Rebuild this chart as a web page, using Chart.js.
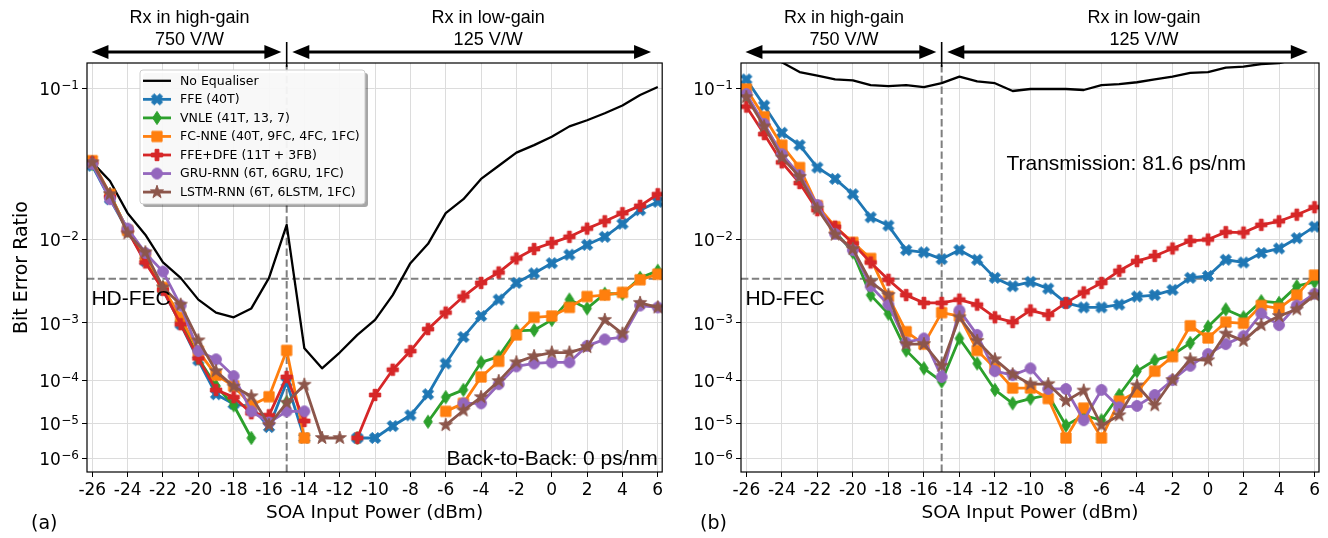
<!DOCTYPE html>
<html lang="en">
<head>
<meta charset="utf-8">
<title>Bit error ratio versus SOA input power</title>
<script src="https://cdn.jsdelivr.net/npm/chart.js@4.4.1/dist/chart.umd.min.js"></script>
<style>
  html, body { margin: 0; padding: 0; background: #ffffff; }
  #figure { position: relative; width: 1328px; height: 538px; overflow: hidden; background: #ffffff; }
  #figure canvas { position: absolute; top: 0; }
  #panelA { left: 0; }
  #panelB { left: 670px; }
</style>
</head>
<body>
<div id="figure">
  <canvas id="panelA" width="670" height="538"></canvas>
  <canvas id="panelB" width="658" height="538"></canvas>
</div>
<script>
// ---------------- data ----------------
const powerDbm = [-26, -25, -24, -23, -22, -21, -20, -19, -18, -17, -16, -15, -14, -13, -12, -11, -10,
                  -9, -8, -7, -6, -5, -4, -3, -2, -1, 0, 1, 2, 3, 4, 5, 6];
const xTickValues = [-26, -24, -22, -20, -18, -16, -14, -12, -10, -8, -6, -4, -2, 0, 2, 4, 6];
const yTickExponents = [1, 2, 3, 4, 5, 6];
const hdFecLimit = 3.8e-3;
const gainSwitchDbm = -15;

const seriesNames = ['No Equaliser', 'FFE (40T)', 'VNLE (41T, 13, 7)', 'FC-NNE (40T, 9FC, 4FC, 1FC)',
                     'FFE+DFE (11T + 3FB)', 'GRU-RNN (6T, 6GRU, 1FC)', 'LSTM-RNN (6T, 6LSTM, 1FC)'];

// (a) back-to-back
const noEqA  = [0.040, 0.030, 0.017, 0.011, 0.0058, 0.0039, 0.0021, 0.0014, 0.0012, 0.0016, 0.0039, 0.0135, 3.9e-4,
                1.7e-4, 3.3e-4, 6.5e-4, 1.1e-3, 2.4e-3, 5.7e-3, 9.0e-3, 0.017, 0.022, 0.031, 0.038, 0.046, 0.051,
                0.057, 0.065, 0.070, 0.076, 0.083, 0.093, 0.101];
const ffeA   = [0.038, 0.022, 0.012, 0.0060, 0.0028, 9.5e-4, 2.4e-4, 5.0e-5, 3.0e-5, 2.6e-5, 8.0e-6, 9.0e-5, 4.0e-6,
                null, null, 4.0e-6, 4.0e-6, 8.5e-6, 1.6e-5, 5.0e-5, 2.1e-4, 6.0e-4, 1.25e-3, 2.1e-3, 3.4e-3, 4.4e-3,
                5.7e-3, 7.0e-3, 8.8e-3, 0.0105, 0.0138, 0.018, 0.021];
const vnleA  = [0.039, 0.024, 0.012, 0.0062, 0.0030, 1.1e-3, 2.6e-4, 7.5e-5, 2.8e-5, 4.0e-6, null, 3.3e-5, null,
                null, null, 4.0e-6, null, null, null, 1.1e-5, 4.3e-5, 6.2e-5, 2.2e-4, 2.8e-4, 7.5e-4, 7.7e-4,
                1.1e-3, 2.1e-3, 1.6e-3, 2.5e-3, 2.5e-3, 3.9e-3, 4.7e-3];
const fcnneA = [0.041, 0.024, 0.012, 0.0068, 0.0030, 1.2e-3, 3.5e-4, 1.25e-4, 7.5e-5, 2.8e-5, 4.4e-5, 3.6e-4, 4.0e-6,
                null, null, null, null, null, null, null, 2.0e-5, 3.1e-5, 1.15e-4, 2.3e-4, 6.5e-4, 1.2e-3,
                1.25e-3, 1.65e-3, 2.3e-3, 2.4e-3, 2.6e-3, 3.7e-3, 4.3e-3];
const dfeA   = [0.040, 0.023, 0.012, 0.0058, 0.0028, 9.5e-4, 2.6e-4, 6.2e-5, 4.3e-5, 1.8e-5, 1.6e-5, 1.15e-4, 1.15e-5,
                null, null, 4.0e-6, 4.8e-5, 1.6e-4, 3.5e-4, 8.0e-4, 1.4e-3, 2.3e-3, 3.4e-3, 4.5e-3, 6.4e-3, 8.0e-3,
                9.2e-3, 0.0105, 0.0125, 0.0145, 0.017, 0.0195, 0.024];
const gruA   = [0.039, 0.022, 0.0125, 0.0073, 0.0046, 1.75e-3, 3.5e-4, 2.5e-4, 1.2e-4, 2.0e-5, 1.05e-5, 2.0e-5, 2.0e-5,
                null, null, null, null, null, null, null, null, 3.1e-5, 3.1e-5, 8.2e-5, 1.85e-4, 2.1e-4,
                2.2e-4, 2.2e-4, 4.3e-4, 5.5e-4, 6.0e-4, 1.75e-3, 1.65e-3];
const lstmA  = [0.040, 0.024, 0.0113, 0.0074, 0.0030, 1.8e-3, 5.3e-4, 1.5e-4, 7.3e-5, 4.5e-5, 9.0e-6, 3.2e-5, 8.0e-5,
                4.0e-6, 4.0e-6, null, null, null, null, null, 9.0e-6, 2.1e-5, 4.3e-5, 9.5e-5, 2.2e-4, 2.85e-4,
                3.3e-4, 3.3e-4, 4.1e-4, 1.1e-3, 6.8e-4, 1.9e-3, 1.65e-3];

// (b) after 81.6 ps/nm transmission
const noEqB  = [0.160, 0.145, 0.128, 0.117, 0.113, 0.109, 0.108, 0.103, 0.102, 0.103, 0.101, 0.105, 0.112,
                0.107, 0.105, 0.097, 0.099, 0.099, 0.099, 0.098, 0.103, 0.104, 0.106, 0.109, 0.112, 0.116,
                0.117, 0.122, 0.123, 0.126, 0.127, 0.132, 0.135];
const ffeB   = [0.109, 0.083, 0.060, 0.051, 0.037, 0.031, 0.024, 0.0157, 0.0133, 0.0078, 0.0074, 0.0063, 0.0078,
                0.0062, 0.0039, 0.0031, 0.0035, 0.0029, 0.0019, 0.00165, 0.00165, 0.0018, 0.0023, 0.0024, 0.0028,
                0.0039, 0.0041, 0.0062, 0.0058, 0.0073, 0.0081, 0.0102, 0.013];
const vnleB  = [0.093, 0.066, 0.045, 0.032, 0.019, 0.0118, 0.0074, 0.0024, 1.35e-3, 3.6e-4, 1.7e-4, 9.3e-5, 5.7e-4,
                2.1e-4, 6.2e-5, 3.1e-5, 4.0e-5, 4.8e-5, 8.8e-6, 1.6e-5, 1.2e-5, 4.8e-5, 1.5e-4, 2.4e-4, 3.0e-4,
                4.8e-4, 8.7e-4, 1.55e-3, 1.2e-3, 2.0e-3, 1.9e-3, 3.1e-3, 3.5e-3];
const fcnneB = [0.099, 0.073, 0.051, 0.037, 0.0196, 0.013, 0.0093, 0.0064, 0.0023, 7.3e-4, 4.6e-4, 1.4e-3, 1.25e-3,
                3.6e-4, 1.7e-4, 6.8e-5, 6.8e-5, 4.0e-5, 4.0e-6, 2.4e-5, 4.0e-6, 3.5e-5, 5.6e-5, 1.5e-4, 2.8e-4,
                9.0e-4, 5.8e-4, 1.02e-3, 9.8e-4, 1.75e-3, 1.6e-3, 2.4e-3, 4.2e-3];
const dfeB   = [0.082, 0.059, 0.040, 0.029, 0.018, 0.013, 0.0091, 0.0058, 0.0037, 0.0024, 0.0019, 0.0019, 0.0021,
                0.0018, 0.0012, 0.00102, 0.0015, 0.0013, 0.0019, 0.0026, 0.0034, 0.0047, 0.0060, 0.0068, 0.0081,
                0.0096, 0.0099, 0.0116, 0.0115, 0.0135, 0.0145, 0.0165, 0.019];
const gruB   = [0.094, 0.067, 0.045, 0.033, 0.0198, 0.0112, 0.0078, 0.0031, 0.0018, 4.9e-4, 5.7e-4, 1.15e-4, 1.5e-3,
                6.5e-4, 1.5e-4, 1.25e-4, 1.7e-4, 6.5e-5, 6.5e-5, 1.2e-5, 6.2e-5, 2.5e-5, 2.7e-5, 4.8e-5, 1.0e-4,
                1.9e-4, 3.1e-4, 4.6e-4, 6.2e-4, 1.35e-3, 9.2e-4, 1.75e-3, 2.5e-3];
const lstmB  = [0.091, 0.065, 0.043, 0.032, 0.0185, 0.011, 0.0080, 0.0035, 0.0024, 4.6e-4, 4.6e-4, 1.9e-4, 1.2e-3,
                5.2e-4, 2.5e-4, 1.3e-4, 8.2e-5, 8.2e-5, 3.5e-5, 6.0e-5, 8.8e-6, 1.6e-5, 7.7e-5, 2.8e-5, 1.0e-4,
                2.5e-4, 2.4e-4, 6.8e-4, 5.2e-4, 9.2e-4, 1.25e-3, 1.55e-3, 2.4e-3];

// ---------------- styles ----------------
const seriesColors  = ['#000000', '#1f77b4', '#2ca02c', '#ff7f0e', '#d62728', '#9467bd', '#8c564b'];
const seriesMarkers = [null, 'X', 'd', 's', 'P', 'o', '*'];
const SANS = "'DejaVu Sans', 'Noto Sans', sans-serif";
const ARIAL = "'Liberation Sans', Arial, sans-serif";

// ---------------- BER axis: y ∝ (-log10 BER)^-0.1 ----------------
const berTransform = v => Math.pow(-Math.log10(v), -0.1);
const berInverse = t => Math.pow(10, -Math.pow(t, -10));

class BerScale extends Chart.Scale {
  static id = 'ber';
  static defaults = {};
  determineDataLimits() {
    this.min = this.options.min;
    this.max = this.options.max;
  }
  buildTicks() {
    return yTickExponents.map(k => ({ value: Math.pow(10, -k) }));
  }
  getLabelForValue(value) {
    return value.toExponential(1);
  }
  configure() {
    super.configure();
    this._t0 = berTransform(this.min);
    this._t1 = berTransform(this.max);
  }
  getPixelForValue(value) {
    if (value === null || value === undefined || !(value > 0)) return NaN;
    return this.getPixelForDecimal((berTransform(value) - this._t0) / (this._t1 - this._t0));
  }
  getValueForPixel(pixel) {
    const d = this.getDecimalForPixel(pixel);
    return berInverse(this._t0 + d * (this._t1 - this._t0));
  }
}
Chart.register(BerScale);

// ---------------- marker glyphs ----------------
function makeMarker(kind, color) {
  const size = 18;
  const c = document.createElement('canvas');
  c.width = size; c.height = size;
  const g = c.getContext('2d');
  g.translate(size / 2, size / 2);
  g.fillStyle = color; g.strokeStyle = color; g.lineWidth = 1; g.lineJoin = 'miter';
  g.beginPath();
  const poly = (pts, s) => {
    pts.forEach(([u, v], i) => {
      const px = (u - 0.5) * s, py = (v - 0.5) * s;
      if (i) g.lineTo(px, py); else g.moveTo(px, py);
    });
    g.closePath();
  };
  if (kind === 'o') {
    g.arc(0, 0, 5.4, 0, Math.PI * 2);
  } else if (kind === 's') {
    g.rect(-5.1, -5.1, 10.2, 10.2);
  } else if (kind === 'X') {
    poly([[0.25, 0], [0.5, 0.25], [0.75, 0], [1, 0.25], [0.75, 0.5], [1, 0.75],
          [0.75, 1], [0.5, 0.75], [0.25, 1], [0, 0.75], [0.25, 0.5], [0, 0.25]], 11.2);
  } else if (kind === 'P') {
    const a = 1 / 3, b = 2 / 3;
    poly([[a, 0], [b, 0], [b, a], [1, a], [1, b], [b, b], [b, 1], [a, 1], [a, b], [0, b], [0, a], [a, a]], 11.4);
  } else if (kind === 'd') {
    g.moveTo(0, -6.6); g.lineTo(4.3, 0); g.lineTo(0, 6.6); g.lineTo(-4.3, 0); g.closePath();
  } else if (kind === '*') {
    for (let i = 0; i < 10; i++) {
      const r = i % 2 ? 2.7 : 6.9;
      const ang = -Math.PI / 2 + i * Math.PI / 5;
      const px = r * Math.cos(ang), py = r * Math.sin(ang);
      if (i) g.lineTo(px, py); else g.moveTo(px, py);
    }
    g.closePath();
  }
  g.fill(); g.stroke();
  return c;
}
const markerImgs = seriesMarkers.map((m, k) => m ? makeMarker(m, seriesColors[k]) : null);

function buildDatasets(seriesValues) {
  return seriesValues.map((vals, k) => ({
    label: seriesNames[k],
    data: powerDbm.map((p, i) => ({ x: p, y: vals[i] })),
    borderColor: seriesColors[k],
    backgroundColor: seriesColors[k],
    borderWidth: k === 0 ? 2.3 : 2.8,
    borderJoinStyle: 'round',
    borderCapStyle: 'butt',
    pointStyle: markerImgs[k] || 'circle',
    pointRadius: k === 0 ? 0 : 5,
    pointHoverRadius: 0,
    tension: 0,
    spanGaps: false,
    order: seriesValues.length - k
  }));
}

// ---------------- drawing helpers ----------------
function doubleArrow(ctx, x1, x2, y) {
  const hl = 17, hw = 7;
  ctx.save();
  ctx.strokeStyle = '#000'; ctx.fillStyle = '#000'; ctx.lineWidth = 3.2;
  ctx.beginPath(); ctx.moveTo(x1 + hl - 2, y); ctx.lineTo(x2 - hl + 2, y); ctx.stroke();
  ctx.beginPath(); ctx.moveTo(x1, y); ctx.lineTo(x1 + hl, y - hw); ctx.lineTo(x1 + hl, y + hw); ctx.closePath(); ctx.fill();
  ctx.beginPath(); ctx.moveTo(x2, y); ctx.lineTo(x2 - hl, y - hw); ctx.lineTo(x2 - hl, y + hw); ctx.closePath(); ctx.fill();
  ctx.restore();
}

function drawLegend(ctx, box) {
  const { left, top, width, height } = box;
  ctx.save();
  // shadow
  ctx.fillStyle = 'rgba(0,0,0,0.35)';
  ctx.beginPath(); ctx.roundRect(left + 3, top + 3, width, height, 3); ctx.fill();
  ctx.fillStyle = 'rgba(255,255,255,0.92)';
  ctx.strokeStyle = '#cccccc'; ctx.lineWidth = 1;
  ctx.beginPath(); ctx.roundRect(left, top, width, height, 3); ctx.fill(); ctx.stroke();
  ctx.font = `12.5px ${SANS}`;
  ctx.textBaseline = 'middle'; ctx.textAlign = 'left';
  seriesNames.forEach((name, k) => {
    const cy = top + 10.8 + k * 18.55;
    ctx.strokeStyle = seriesColors[k];
    ctx.lineWidth = k === 0 ? 2.3 : 2.8;
    ctx.beginPath(); ctx.moveTo(left + 3, cy); ctx.lineTo(left + 31, cy); ctx.stroke();
    if (markerImgs[k]) ctx.drawImage(markerImgs[k], left + 17 - 9, cy - 9);
    ctx.fillStyle = '#000';
    ctx.fillText(name, left + 40, cy + 0.5);
  });
  ctx.restore();
}

const panelDecor = {
  id: 'panelDecor',
  beforeDatasetsDraw(chart, args, opts) {
    const { ctx, chartArea: a, scales: { x, y } } = chart;
    ctx.save();
    ctx.strokeStyle = '#7f7f7f'; ctx.lineWidth = 2; ctx.setLineDash([7.4, 3.4]);
    const yf = y.getPixelForValue(hdFecLimit);
    ctx.beginPath(); ctx.moveTo(a.left, yf); ctx.lineTo(a.right, yf); ctx.stroke();
    const xv = x.getPixelForValue(gainSwitchDbm);
    ctx.beginPath(); ctx.moveTo(xv, a.bottom); ctx.lineTo(xv, a.top); ctx.stroke();
    ctx.restore();
  },
  afterDatasetsDraw(chart, args, opts) {
    const { ctx, chartArea: a, scales: { x, y } } = chart;
    ctx.save();
    // in-plot notes
    ctx.fillStyle = '#000';
    ctx.font = `21px ${ARIAL}`;
    ctx.textBaseline = 'middle';
    opts.notes.forEach(n => {
      ctx.textAlign = n.align;
      ctx.fillText(n.text, x.getPixelForValue(n.x), y.getPixelForValue(n.y));
    });
    // frame
    ctx.strokeStyle = '#000'; ctx.lineWidth = 1.2;
    ctx.strokeRect(a.left, a.top, a.right - a.left, a.bottom - a.top);
    ctx.restore();
  },
  afterDraw(chart, args, opts) {
    const { ctx, chartArea: a, scales: { x, y } } = chart;
    ctx.save();
    // receiver gain regions above the plot
    ctx.fillStyle = '#000';
    ctx.font = `18px ${ARIAL}`;
    ctx.textAlign = 'center'; ctx.textBaseline = 'alphabetic';
    const xHi = x.getPixelForValue(-20.5), xLo = x.getPixelForValue(-3.6);
    ctx.fillText('Rx in high-gain', xHi, 23);
    ctx.fillText('750 V/W', xHi, 45);
    ctx.fillText('Rx in low-gain', xLo, 23);
    ctx.fillText('125 V/W', xLo, 45);
    doubleArrow(ctx, x.getPixelForValue(-26.05), x.getPixelForValue(-15.3), 52);
    doubleArrow(ctx, x.getPixelForValue(-14.68), x.getPixelForValue(5.62), 52);
    const xs = x.getPixelForValue(gainSwitchDbm);
    ctx.strokeStyle = '#000'; ctx.lineWidth = 1.6;
    ctx.beginPath(); ctx.moveTo(xs, 42); ctx.lineTo(xs, 67); ctx.stroke();

    // y tick labels 10^-k
    ctx.textAlign = 'right'; ctx.textBaseline = 'alphabetic';
    yTickExponents.forEach(k => {
      const py = y.getPixelForValue(Math.pow(10, -k));
      const exp = '\u2212' + k;
      ctx.font = `12px ${SANS}`;
      const ew = ctx.measureText(exp).width;
      const xr = a.left - 8;
      ctx.fillText(exp, xr, py + 0.5);
      ctx.font = `17px ${SANS}`;
      ctx.fillText('10', xr - ew - 0.5, py + 7);
    });

    // panel tag
    ctx.font = `19px ${SANS}`;
    ctx.textAlign = 'left'; ctx.textBaseline = 'middle';
    ctx.fillText(opts.tag, opts.tagX, 524);

    if (opts.legend) drawLegend(ctx, opts.legend);
    ctx.restore();
  }
};

function makePanel(canvasId, seriesValues, cfg) {
  return new Chart(document.getElementById(canvasId), {
    type: 'line',
    data: { datasets: buildDatasets(seriesValues) },
    options: {
      responsive: false,
      animation: false,
      devicePixelRatio: 1,
      events: [],
      layout: { padding: { left: 0, right: cfg.padRight, top: 63, bottom: 0 } },
      plugins: {
        legend: { display: false },
        tooltip: { enabled: false },
        panelDecor: { notes: cfg.notes, tag: cfg.tag, tagX: cfg.tagX, legend: cfg.legend }
      },
      scales: {
        x: {
          type: 'linear',
          min: -26.3,
          max: 6.25,
          afterBuildTicks: s => { s.ticks = xTickValues.map(v => ({ value: v })); },
          afterFit: s => { s.height = 66; },
          ticks: {
            color: '#000', font: { family: SANS, size: 17 }, padding: 3,
            maxRotation: 0, autoSkip: false, callback: v => String(v)
          },
          grid: { color: '#dcdcdc', lineWidth: 1, tickColor: '#000', tickLength: 5, tickWidth: 1 },
          border: { display: false },
          title: {
            display: true, text: 'SOA Input Power (dBm)', color: '#000',
            font: { family: SANS, size: 18.5 }, padding: { top: 0, bottom: 14 }
          }
        },
        y: {
          type: 'ber',
          min: 3.44e-7,
          max: 0.1272,
          afterFit: s => { s.width = cfg.axisWidth; },
          ticks: { display: false },
          grid: { color: '#dcdcdc', lineWidth: 1, tickColor: '#000', tickLength: 5, tickWidth: 1 },
          border: { display: false },
          title: {
            display: cfg.yTitle, text: 'Bit Error Ratio', color: '#000',
            font: { family: SANS, size: 19 }, padding: { top: 11, bottom: 0 }
          }
        }
      }
    },
    plugins: [panelDecor]
  });
}

makePanel('panelA', [noEqA, ffeA, vnleA, fcnneA, dfeA, gruA, lstmA], {
  padRight: 5, axisWidth: 87, yTitle: true, tag: '(a)', tagX: 31,
  legend: { left: 140, top: 70, width: 225, height: 134 },
  notes: [
    { text: 'HD-FEC', x: -26.05, y: 2.1e-3, align: 'left' },
    { text: 'Back-to-Back: 0 ps/nm', x: 6.0, y: 9.5e-7, align: 'right' }
  ]
});

makePanel('panelB', [noEqB, ffeB, vnleB, fcnneB, dfeB, gruB, lstmB], {
  padRight: 9, axisWidth: 71, yTitle: false, tag: '(b)', tagX: 30,
  legend: null,
  notes: [
    { text: 'HD-FEC', x: -26.05, y: 2.1e-3, align: 'left' },
    { text: 'Transmission: 81.6 ps/nm', x: -11.35, y: 0.039, align: 'left' }
  ]
});
</script>
</body>
</html>
